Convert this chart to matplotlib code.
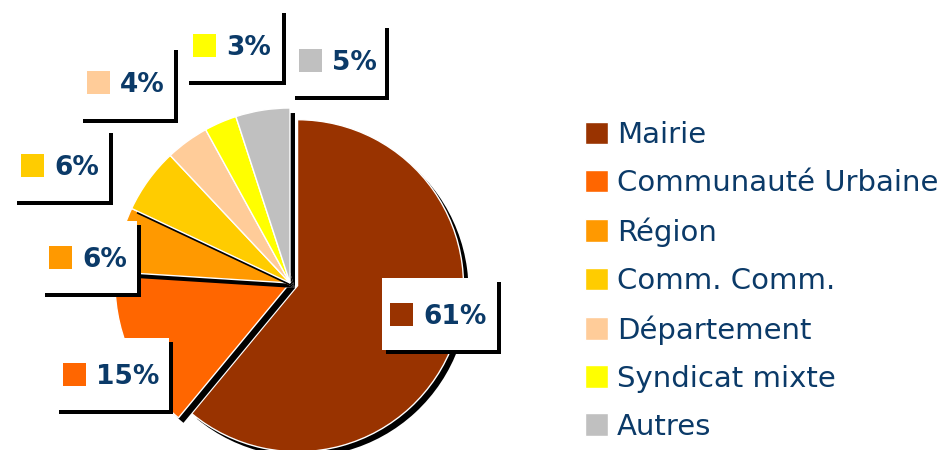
import matplotlib
matplotlib.use("Agg")
import matplotlib.pyplot as plt
from matplotlib.patches import Rectangle, Wedge

# data
categories = ["Mairie", "Communauté Urbaine", "Région", "Comm. Comm.",
              "Département", "Syndicat mixte", "Autres"]
values = [61, 15, 6, 6, 4, 3, 5]
colors = ["#993300", "#FF6600", "#FF9900", "#FFCC00", "#FFCC99", "#FFFF00", "#C0C0C0"]

# layout (pixel boxes of the value labels: left, top, right, bottom)
label_boxes = [(382, 278, 497, 350), (55, 338, 169, 410), (41, 221, 137, 293),
               (13, 129, 109, 201), (79, 46, 174, 119), (185, 9, 282, 81),
               (291, 24, 385, 96)]

W, H = 940, 450
navy = "#0b3a68"
sh = 4  # shadow offset of the label boxes, px
psh = 5  # shadow offset of the slices, px

fig = plt.figure(figsize=(W / 100, H / 100), dpi=100)
ax = fig.add_axes([0, 0, 1, 1])

# note: explode is an offset in data units here (pixels)
wedges, _ = ax.pie(values, colors=colors, startangle=90, counterclock=False,
                   explode=[8, 0, 0, 0, 0, 0, 0], center=(290, H - 283),
                   radius=175, wedgeprops=dict(edgecolor="white", linewidth=1))
wedges[0].set_radius(166)  # the pulled-out slice is drawn a bit smaller

# drop shadow under each slice, stacked so each one falls on the previous slice
for i, w in enumerate(wedges):
    w.set_zorder(2 + 2 * i)
    cx, cy = w.center
    s = Wedge((cx + psh, cy - psh), w.r, w.theta1, w.theta2, facecolor="black",
              edgecolor="none", zorder=1 + 2 * i)
    ax.add_patch(s)

# value labels in white boxes with a shadow
for v, c, (l, t, r, b) in zip(values, colors, label_boxes):
    ax.add_patch(Rectangle((l + sh, H - b - sh), r - l, b - t, facecolor="black",
                           edgecolor="none", zorder=50))
    ax.add_patch(Rectangle((l, H - b), r - l, b - t, facecolor="white",
                           edgecolor="none", zorder=51))
    yc = H - (t + b) / 2
    ax.add_patch(Rectangle((l + 8, yc - 11.5), 23, 23, facecolor=c,
                           edgecolor="none", zorder=52))
    ax.text(l + 41, yc, f"{v}%", ha="left", va="center_baseline", fontsize=19,
            fontweight="bold", color=navy, zorder=53)

ax.set_xlim(0, W)
ax.set_ylim(0, H)
ax.set_aspect("equal")
ax.axis("off")

leg = fig.legend(handles=wedges, labels=categories, loc="upper left",
                 bbox_to_anchor=(585 / W, 1 - 121 / H), frameon=False,
                 fontsize=21, handlelength=0.8, handleheight=0.8,
                 handletextpad=0.3, labelspacing=0.69, borderpad=0,
                 borderaxespad=0)
for txt in leg.get_texts():
    txt.set_color(navy)

fig.savefig("out.png", dpi=100, facecolor="white")
